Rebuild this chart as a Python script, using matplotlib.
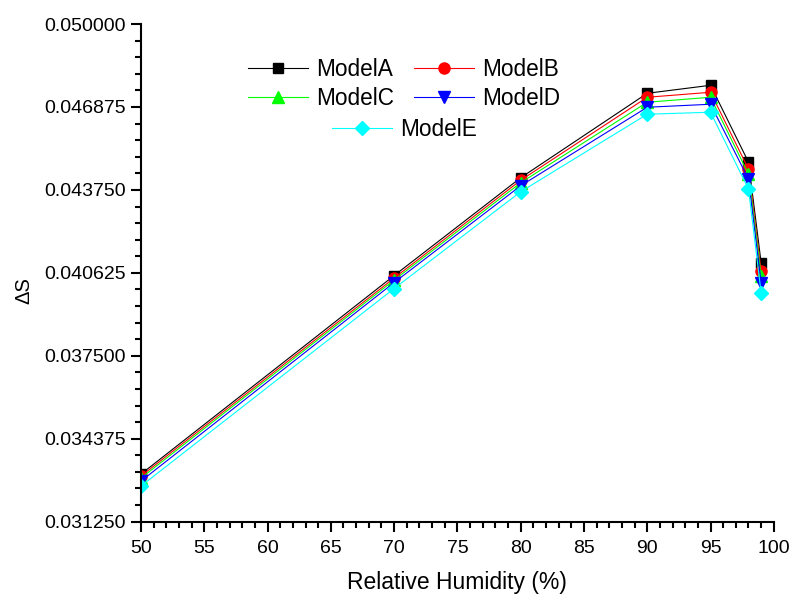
import matplotlib
matplotlib.use("Agg")
import matplotlib.pyplot as plt
from matplotlib.ticker import MultipleLocator, FormatStrFormatter

plt.rcParams["font.family"] = ["Liberation Sans", "DejaVu Sans"]

# 数据
humidity = [50, 70, 80, 90, 95, 98, 99]
model_a = [0.033042, 0.040522, 0.044207, 0.047391, 0.047692, 0.044799, 0.041005]
model_b = [0.032967, 0.040428, 0.044113, 0.047241, 0.047429, 0.044536, 0.040705]
model_c = [0.032892, 0.040353, 0.044019, 0.047053, 0.047241, 0.044348, 0.040517]
model_d = [0.032779, 0.040259, 0.043906, 0.046865, 0.046978, 0.044160, 0.040254]
model_e = [0.032591, 0.040034, 0.043681, 0.046602, 0.046677, 0.043784, 0.039878]

series = [
    ("ModelA", model_a, "black", "s", 7),
    ("ModelB", model_b, "red", "o", 8),
    ("ModelC", model_c, "#00ff00", "^", 8),
    ("ModelD", model_d, "blue", "v", 8),
    ("ModelE", model_e, "cyan", "D", 7),
]

fig = plt.figure(figsize=(7.92, 6.01), dpi=100)
ax = fig.add_axes([0.178, 0.132, 0.799, 0.828])

handles = {}
for name, vals, color, marker, ms in series:
    (h,) = ax.plot(humidity, vals, color=color, marker=marker, markersize=ms,
                   linewidth=0.8, label=name)
    handles[name] = h

ax.set_xlim(50, 100)
ax.set_ylim(0.03125, 0.05)
ax.xaxis.set_major_locator(MultipleLocator(5))
ax.xaxis.set_minor_locator(MultipleLocator(1))
ax.yaxis.set_major_locator(MultipleLocator(0.003125))
ax.yaxis.set_minor_locator(MultipleLocator(0.000625))
ax.yaxis.set_major_formatter(FormatStrFormatter("%.6f"))

for side in ("top", "right"):
    ax.spines[side].set_visible(False)
for side in ("left", "bottom"):
    ax.spines[side].set_linewidth(1.5)

ax.tick_params(which="major", direction="out", length=7, width=1.5,
               labelsize=14, pad=4)
ax.tick_params(axis="x", which="major", pad=6)
ax.tick_params(which="minor", direction="out", length=4, width=1.5)

ax.set_xlabel("Relative Humidity (%)", fontsize=16.5, labelpad=10)
ax.set_ylabel("ΔS", fontsize=14.5, labelpad=8, y=0.465)

# 图例：前四个按两列排，ModelE 单独居中
leg_kw = dict(frameon=False, fontsize=16.3, handlelength=2.65, handletextpad=0.35,
              borderpad=0, bbox_transform=fig.transFigure)
leg1 = ax.legend([handles["ModelA"], handles["ModelC"], handles["ModelB"], handles["ModelD"]],
                 ["ModelA", "ModelC", "ModelB", "ModelD"], ncol=2, loc="center",
                 bbox_to_anchor=(0.510, 0.860), columnspacing=0.9, labelspacing=0.25,
                 **leg_kw)
ax.add_artist(leg1)
ax.legend([handles["ModelE"]], ["ModelE"], loc="center",
          bbox_to_anchor=(0.511, 0.784), **leg_kw)

fig.savefig("out.png", dpi=100)
plt.close(fig)
